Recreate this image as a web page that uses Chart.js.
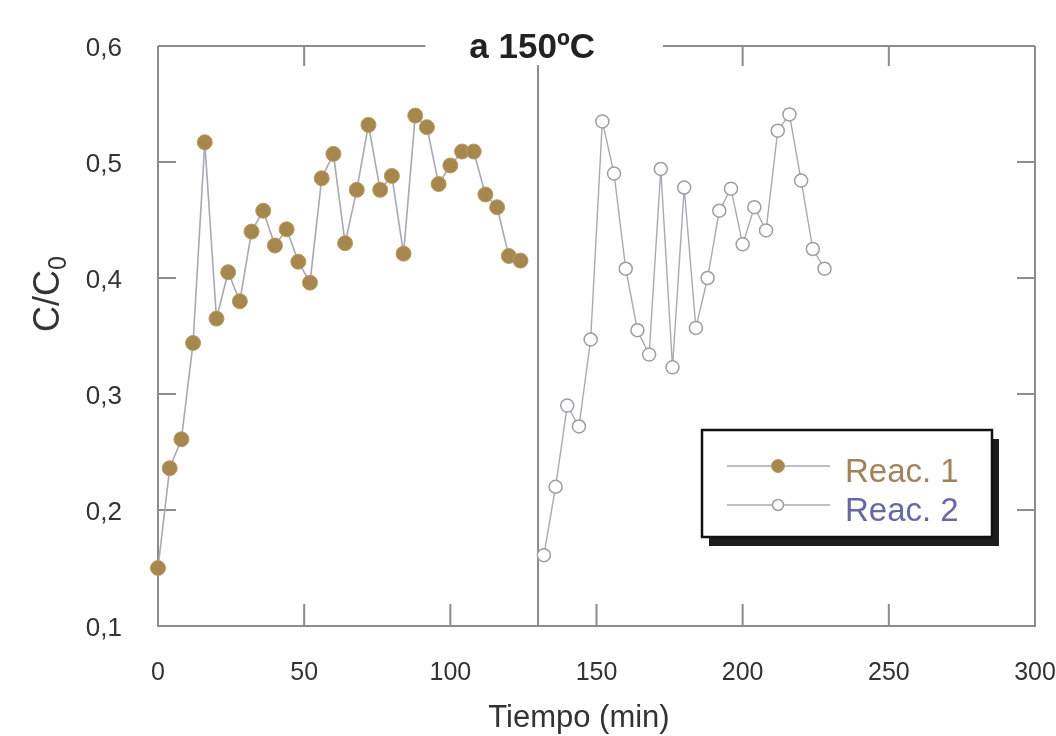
<!DOCTYPE html>
<html>
<head>
<meta charset="utf-8">
<script src="https://cdn.jsdelivr.net/npm/chart.js@4/dist/chart.umd.min.js"></script>
<style>
  html, body { margin: 0; padding: 0; background: #fff; }
  canvas { display: block; }
</style>
</head>
<body>
<canvas id="chart" width="1056" height="736"></canvas>
<script>
// Reac. 1 (filled markers)
const reac1Time = [0, 4, 8, 12, 16, 20, 24, 28, 32, 36, 40, 44, 48, 52, 56, 60,
  64, 68, 72, 76, 80, 84, 88, 92, 96, 100, 104, 108, 112, 116, 120, 124];
const reac1Value = [0.150, 0.236, 0.261, 0.344, 0.517, 0.365, 0.405, 0.380, 0.440, 0.458, 0.428,
  0.442, 0.414, 0.396, 0.486, 0.507, 0.430, 0.476, 0.532, 0.476, 0.488, 0.421,
  0.540, 0.530, 0.481, 0.497, 0.509, 0.509, 0.472, 0.461, 0.419, 0.415];

// Reac. 2 (open markers)
const reac2Time = [132, 136, 140, 144, 148, 152, 156, 160, 164, 168, 172, 176, 180,
  184, 188, 192, 196, 200, 204, 208, 212, 216, 220, 224, 228];
const reac2Value = [0.161, 0.220, 0.290, 0.272, 0.347, 0.535, 0.490, 0.408, 0.355, 0.334,
  0.494, 0.323, 0.478, 0.357, 0.400, 0.458, 0.477, 0.429, 0.461, 0.441,
  0.527, 0.541, 0.484, 0.425, 0.408];

const xTicks = [0, 50, 100, 150, 200, 250, 300];
const yTicks = [0.1, 0.2, 0.3, 0.4, 0.5, 0.6];
const separatorTime = 130;
const titleText = 'a 150ºC';

const FONT = '"Liberation Sans", Arial, sans-serif';
const AXIS_GRAY = '#8c8c8c';

const toPoints = (xs, ys) => xs.map((t, i) => ({ x: t, y: ys[i] }));

const series = [
  {
    label: 'Reac. 1',
    data: toPoints(reac1Time, reac1Value),
    showLine: true,
    borderColor: '#a7a9b4',
    borderWidth: 1.6,
    pointRadius: 7.5,
    pointBackgroundColor: '#a6884e',
    pointBorderColor: '#b89a62',
    pointBorderWidth: 1,
    textColor: '#a2825a',
    clip: false,
  },
  {
    label: 'Reac. 2',
    data: toPoints(reac2Time, reac2Value),
    showLine: true,
    borderColor: '#a9a9b5',
    borderWidth: 1.4,
    pointRadius: 6.5,
    pointBackgroundColor: '#ffffff',
    pointBorderColor: '#9d9da8',
    pointBorderWidth: 1.5,
    textColor: '#6868a8',
    clip: false,
  },
];

const framePlugin = {
  id: 'frame',
  beforeDatasetsDraw(chart) {
    const { ctx, chartArea: a, scales: { x, y } } = chart;
    ctx.save();

    // title sitting in a gap of the top border
    ctx.font = `bold 35px ${FONT}`;
    const tw = ctx.measureText(titleText).width;
    const tx = x.getPixelForValue(128);
    ctx.fillStyle = '#222';
    ctx.textAlign = 'center';
    ctx.textBaseline = 'alphabetic';
    ctx.fillText(titleText, tx, a.top + 12);
    const gapL = tx - tw / 2 - 44;
    const gapR = tx + tw / 2 + 68;

    ctx.strokeStyle = AXIS_GRAY;
    ctx.lineWidth = 2;
    ctx.beginPath();
    ctx.moveTo(a.left, a.top);
    ctx.lineTo(a.left, a.bottom);
    ctx.lineTo(a.right, a.bottom);
    ctx.lineTo(a.right, a.top);
    ctx.moveTo(a.left, a.top);
    ctx.lineTo(gapL, a.top);
    ctx.moveTo(gapR, a.top);
    ctx.lineTo(a.right, a.top);

    // inward ticks
    yTicks.slice(1, -1).forEach((v) => {
      const py = y.getPixelForValue(v);
      ctx.moveTo(a.left, py); ctx.lineTo(a.left + 18, py);
      ctx.moveTo(a.right, py); ctx.lineTo(a.right - 18, py);
    });
    xTicks.slice(1, -1).forEach((v) => {
      const px = x.getPixelForValue(v);
      ctx.moveTo(px, a.bottom); ctx.lineTo(px, a.bottom - 22);
      if (px < gapL || px > gapR) {
        ctx.moveTo(px, a.top); ctx.lineTo(px, a.top + 20);
      }
    });

    // separator between the two runs
    const sx = x.getPixelForValue(separatorTime);
    ctx.moveTo(sx, a.top + 19);
    ctx.lineTo(sx, a.bottom);
    ctx.stroke();

    // axis titles
    ctx.fillStyle = '#333';
    ctx.font = `31px ${FONT}`;
    ctx.textAlign = 'center';
    ctx.fillText('Tiempo (min)', a.left + (a.right - a.left) * 0.48, a.bottom + 101);

    ctx.translate(46, (a.top + a.bottom) / 2 - 42);
    ctx.rotate(-Math.PI / 2);
    ctx.font = `36px ${FONT}`;
    const main = 'C/C';
    const mw = ctx.measureText(main).width;
    ctx.font = `25px ${FONT}`;
    const sw = ctx.measureText('0').width;
    const start = -(mw + sw) / 2;
    ctx.textAlign = 'left';
    ctx.font = `36px ${FONT}`;
    ctx.fillText(main, start, 13);
    ctx.font = `25px ${FONT}`;
    ctx.fillText('0', start + mw, 20);
    ctx.restore();
  },
  afterDraw(chart) {
    const { ctx } = chart;
    ctx.save();
    const bx = 702; const by = 430; const bw = 290; const bh = 107;
    ctx.fillStyle = '#1c1c1c';
    ctx.fillRect(bx + 7, by + 9, bw, bh);
    ctx.fillStyle = '#fff';
    ctx.fillRect(bx, by, bw, bh);
    ctx.strokeStyle = '#111';
    ctx.lineWidth = 2.5;
    ctx.strokeRect(bx, by, bw, bh);

    series.forEach((s, i) => {
      const ly = by + 36 + i * 39;
      ctx.strokeStyle = s.borderColor;
      ctx.lineWidth = s.borderWidth;
      ctx.beginPath();
      ctx.moveTo(bx + 25, ly);
      ctx.lineTo(bx + 128, ly);
      ctx.stroke();
      ctx.beginPath();
      ctx.arc(bx + 76, ly, i === 0 ? 6.5 : 5.5, 0, Math.PI * 2);
      ctx.fillStyle = s.pointBackgroundColor;
      ctx.fill();
      ctx.strokeStyle = s.pointBorderColor;
      ctx.lineWidth = s.pointBorderWidth;
      ctx.stroke();
      ctx.fillStyle = s.textColor;
      ctx.font = `33px ${FONT}`;
      ctx.textAlign = 'left';
      ctx.textBaseline = 'alphabetic';
      ctx.fillText(s.label, bx + 143, ly + 16);
    });
    ctx.restore();
  },
};

new Chart(document.getElementById('chart'), {
  type: 'scatter',
  data: { datasets: series },
  plugins: [framePlugin],
  options: {
    responsive: false,
    animation: false,
    events: [],
    devicePixelRatio: 1,
    layout: { autoPadding: false, padding: { top: 46, right: 21, left: 0, bottom: 0 } },
    plugins: { legend: { display: false }, tooltip: { enabled: false } },
    scales: {
      x: {
        type: 'linear',
        min: 0,
        max: 300,
        afterFit: (s) => {
          s.height = 110;
          s.paddingLeft = 0;
          s.paddingRight = 0;
        },
        afterBuildTicks: (s) => { s.ticks = xTicks.map((v) => ({ value: v })); },
        grid: { display: false, drawTicks: false },
        border: { display: false },
        ticks: { padding: 32, color: '#333', font: { family: FONT, size: 25 } },
      },
      y: {
        type: 'linear',
        min: 0.1,
        max: 0.6,
        afterFit: (s) => {
          s.width = 158;
          s.paddingTop = 0;
          s.paddingBottom = 0;
        },
        afterBuildTicks: (s) => { s.ticks = yTicks.map((v) => ({ value: v })); },
        grid: { display: false, drawTicks: false },
        border: { display: false },
        ticks: {
          padding: 36,
          labelOffset: 3,
          color: '#333',
          font: { family: FONT, size: 26 },
          callback: (v) => v.toFixed(1).replace('.', ','),
        },
      },
    },
  },
});
</script>
</body>
</html>
